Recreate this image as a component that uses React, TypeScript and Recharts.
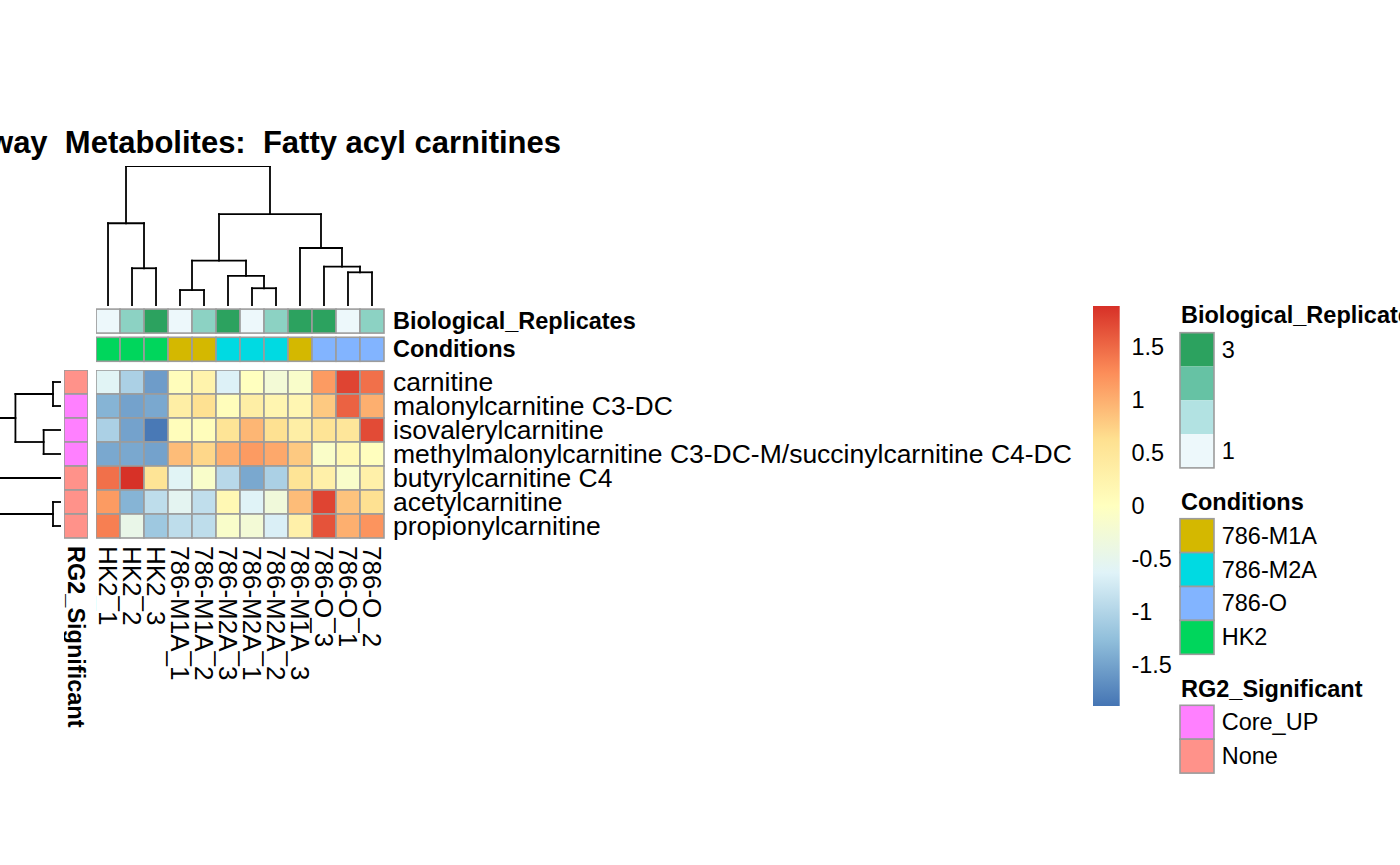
import React from 'react';
import { ScatterChart, Scatter, XAxis, YAxis, ReferenceLine, ReferenceArea } from 'recharts';

// samples in dendrogram order (columns)
const sampleNames = [
  'HK2_1', 'HK2_2', 'HK2_3', '786-M1A_1', '786-M1A_2', '786-M2A_3',
  '786-M2A_1', '786-M2A_2', '786-M1A_3', '786-O_3', '786-O_1', '786-O_2',
];

// metabolites in dendrogram order (rows)
const metaboliteNames = [
  'carnitine',
  'malonylcarnitine C3-DC',
  'isovalerylcarnitine',
  'methylmalonylcarnitine C3-DC-M/succinylcarnitine C4-DC',
  'butyrylcarnitine C4',
  'acetylcarnitine',
  'propionylcarnitine',
];

// scaled values per metabolite, one entry per sample
const zCarnitine = [-0.6, -1.05, -1.55, 0.05, 0.25, -0.65, 0.0, -0.25, -0.12, 1.15, 1.75, 1.45];
const zMalonyl = [-1.35, -1.5, -1.45, 0.35, 0.6, 0.05, 0.35, 0.2, 0.18, 0.8, 1.55, 1.0];
const zIsovaleryl = [-1.05, -1.5, -1.85, 0.05, 0.05, 0.55, 0.95, 0.6, 0.35, 0.55, 0.5, 1.7];
const zMethylmalonyl = [-1.45, -1.45, -1.5, 0.9, 0.7, 1.0, 1.15, 1.05, 0.8, -0.1, 0.15, 0.02];
const zButyryl = [1.45, 1.88, 0.55, -0.6, -0.12, -0.95, -1.45, -1.05, 0.55, 0.3, -0.12, 0.3];
const zAcetyl = [1.15, -1.35, -0.9, -0.55, -0.88, 0.15, -0.62, -0.3, 0.9, 1.75, 0.85, 0.6];
const zPropionyl = [1.35, -0.45, -1.15, -0.9, -0.9, -0.12, -0.25, -0.68, 0.3, 1.65, 1.0, 1.2];
const zRows = [zCarnitine, zMalonyl, zIsovaleryl, zMethylmalonyl, zButyryl, zAcetyl, zPropionyl];

// column annotations
const replicateValues = [1, 2, 3, 1, 2, 3, 1, 2, 3, 3, 1, 2];
const conditionValues = [
  'HK2', 'HK2', 'HK2', '786-M1A', '786-M1A', '786-M2A',
  '786-M2A', '786-M2A', '786-M1A', '786-O', '786-O', '786-O',
];
const annotationNames = ['Biological_Replicates', 'Conditions'];

// row annotation
const rg2Values = ['None', 'Core_UP', 'Core_UP', 'Core_UP', 'None', 'None', 'None'];

// legend levels
const conditionLevels = ['786-M1A', '786-M2A', '786-O', 'HK2'];
const rg2Levels = ['Core_UP', 'None'];
const colorTicks = [-1.5, -1, -0.5, 0, 0.5, 1, 1.5];
const colorRange = [-1.885, 1.885];

// hclust-style merges: negative = leaf, positive = earlier merge (1-based), then height
const colMerges: [number, number, number][] = [
  [-2, -3, 2.68],
  [-1, 1, 5.9],
  [-4, -5, 1.12],
  [-7, -8, 1.25],
  [-6, 4, 2.13],
  [3, 5, 3.22],
  [-11, -12, 2.39],
  [-10, 7, 2.79],
  [-9, 8, 4.13],
  [6, 9, 6.56],
  [2, 10, 10],
];
const rowMerges: [number, number, number][] = [
  [-1, -2, 0.55],
  [-3, -4, 1.22],
  [1, 2, 3.24],
  [-6, -7, 0.55],
  [-5, 4, 5.6],
  [3, 5, 10],
];

// colours
const rdylbu = ['#4575B4', '#91BFDB', '#E0F3F8', '#FFFFBF', '#FEE090', '#FC8D59', '#D73027'];
const replicateColours: Record<number, string> = { 1: '#EDF8FB', 2: '#8CD2C3', 3: '#2CA25F' };
const replicateRamp = ['#2CA25F', '#66C2A4', '#B2E2E2', '#EDF8FB'];
const conditionColours: Record<string, string> = {
  '786-M1A': '#D4B800',
  '786-M2A': '#00DAE2',
  '786-O': '#82B4FF',
  HK2: '#00D65C',
};
const rg2Colours: Record<string, string> = { Core_UP: '#FF80FF', None: '#FF928A' };

const GRID = '#9C9C9C';
const FONT = '"Liberation Sans", Arial, Helvetica, sans-serif';
const CELL = 24;
const N_COL = sampleNames.length;
const N_ROW = metaboliteNames.length;
const PLOT_W = CELL * N_COL;
const PLOT_H = CELL * N_ROW;
const HM_LEFT = 95.7;
const HM_TOP = 369.7;
const TREE_H = 139.7;
const colIdx = sampleNames.map((_, i) => i);
const rowIdx = metaboliteNames.map((_, i) => i);

const hexToRgb = (h: string) => [1, 3, 5].map((i) => parseInt(h.slice(i, i + 2), 16));
function heatColor(v: number) {
  const t = Math.min(1, Math.max(0, (v - colorRange[0]) / (colorRange[1] - colorRange[0])));
  const pos = t * (rdylbu.length - 1);
  const i = Math.min(rdylbu.length - 2, Math.floor(pos));
  const f = pos - i;
  const a = hexToRgb(rdylbu[i]);
  const b = hexToRgb(rdylbu[i + 1]);
  const c = a.map((x, k) => Math.round(x + (b[k] - x) * f));
  return `rgb(${c[0]},${c[1]},${c[2]})`;
}

function treeSegments(merges: [number, number, number][]) {
  const pos: number[] = [];
  const ht: number[] = [];
  const segs: { p1: number; h1: number; p2: number; h2: number }[] = [];
  const nodePos = (id: number) => (id < 0 ? -id - 1 : pos[id - 1]);
  const nodeHt = (id: number) => (id < 0 ? 0 : ht[id - 1]);
  merges.forEach(([a, b, h], k) => {
    const pa = nodePos(a);
    const pb = nodePos(b);
    segs.push({ p1: pa, h1: nodeHt(a), p2: pa, h2: h });
    segs.push({ p1: pb, h1: nodeHt(b), p2: pb, h2: h });
    segs.push({ p1: pa, h1: h, p2: pb, h2: h });
    pos[k] = (pa + pb) / 2;
    ht[k] = h;
  });
  return segs;
}

const heatCells = zRows.flatMap((vals, r) => vals.map((v, c) => ({ col: c, row: r, value: v })));
const annoCells = [
  ...replicateValues.map((v, c) => ({ col: c, row: 0, fill: replicateColours[v] })),
  ...conditionValues.map((v, c) => ({ col: c, row: 1, fill: conditionColours[v] })),
];
const rg2Cells = rg2Values.map((v, r) => ({ col: 0, row: r, fill: rg2Colours[v] }));

const noMargin = { top: 0, right: 0, bottom: 0, left: 0 };

const renderHeatCell = (props: any) => (
  <rect
    x={props.cx - CELL / 2}
    y={props.cy - CELL / 2}
    width={CELL}
    height={CELL}
    fill={heatColor(props.payload.value)}
    stroke={GRID}
    strokeWidth={1.6}
  />
);

const renderFillCell = (props: any) => (
  <rect
    x={props.cx - CELL / 2}
    y={props.cy - CELL / 2}
    width={CELL}
    height={CELL}
    fill={props.payload.fill}
    stroke={GRID}
    strokeWidth={1.6}
  />
);

const hiddenPoint = () => <g />;

function HeatmapBody() {
  return (
    <div style={{ position: 'absolute', left: HM_LEFT, top: HM_TOP }}>
      <ScatterChart width={PLOT_W + 720} height={PLOT_H + 220} margin={noMargin}>
        <XAxis
          type="number"
          dataKey="col"
          domain={[-0.5, N_COL - 0.5]}
          ticks={colIdx}
          interval={0}
          axisLine={false}
          tickLine={false}
          tickSize={0}
          tickMargin={8}
          height={220}
          tick={(p: any) => (
            <text
              x={p.x}
              y={p.y}
              transform={`rotate(90, ${p.x}, ${p.y})`}
              dominantBaseline="central"
              fontSize={26}
              fill="#000"
            >
              {sampleNames[p.payload.value]}
            </text>
          )}
        />
        <YAxis
          type="number"
          dataKey="row"
          domain={[-0.5, N_ROW - 0.5]}
          reversed
          orientation="right"
          ticks={rowIdx}
          interval={0}
          axisLine={false}
          tickLine={false}
          tickSize={0}
          tickMargin={9}
          width={720}
          tick={(p: any) => (
            <text x={p.x} y={p.y} dominantBaseline="central" fontSize={26.5} fill="#000">
              {metaboliteNames[p.payload.value]}
            </text>
          )}
        />
        <Scatter data={heatCells} shape={renderHeatCell} isAnimationActive={false} />
      </ScatterChart>
    </div>
  );
}

function ColumnAnnotations() {
  const step = 28.2;
  return (
    <div style={{ position: 'absolute', left: HM_LEFT, top: 321.5 - step / 2 }}>
      <ScatterChart width={PLOT_W + 320} height={step * 2} margin={noMargin}>
        <XAxis type="number" dataKey="col" domain={[-0.5, N_COL - 0.5]} hide />
        <YAxis
          type="number"
          dataKey="row"
          domain={[-0.5, 1.5]}
          reversed
          orientation="right"
          ticks={[0, 1]}
          interval={0}
          axisLine={false}
          tickLine={false}
          tickSize={0}
          tickMargin={9}
          width={320}
          tick={(p: any) => (
            <text x={p.x} y={p.y} dominantBaseline="central" fontSize={23.5} fontWeight="bold" fill="#000">
              {annotationNames[p.payload.value]}
            </text>
          )}
        />
        <Scatter data={annoCells} shape={renderFillCell} isAnimationActive={false} />
      </ScatterChart>
    </div>
  );
}

function RowAnnotation() {
  return (
    <div style={{ position: 'absolute', left: 63.5, top: HM_TOP }}>
      <ScatterChart width={CELL} height={PLOT_H + 220} margin={noMargin}>
        <XAxis
          type="number"
          dataKey="col"
          domain={[-0.5, 0.5]}
          ticks={[0]}
          interval={0}
          axisLine={false}
          tickLine={false}
          tickSize={0}
          tickMargin={8}
          height={220}
          tick={(p: any) => (
            <text
              x={p.x}
              y={p.y}
              transform={`rotate(90, ${p.x}, ${p.y})`}
              dominantBaseline="central"
              fontSize={23.5}
              fontWeight="bold"
              fill="#000"
            >
              RG2_Significant
            </text>
          )}
        />
        <YAxis type="number" dataKey="row" domain={[-0.5, N_ROW - 0.5]} reversed hide />
        <Scatter data={rg2Cells} shape={renderFillCell} isAnimationActive={false} />
      </ScatterChart>
    </div>
  );
}

function ColumnTree() {
  const segs = treeSegments(colMerges);
  const leaves = colIdx.map((i) => ({ pos: i, h: 0 }));
  return (
    <div style={{ position: 'absolute', left: HM_LEFT, top: 305.7 - TREE_H }}>
      <ScatterChart width={PLOT_W} height={TREE_H} margin={noMargin}>
        <XAxis type="number" dataKey="pos" domain={[-0.5, N_COL - 0.5]} hide />
        <YAxis type="number" dataKey="h" domain={[0, 10]} hide />
        <Scatter data={leaves} shape={hiddenPoint} isAnimationActive={false} />
        {segs.map((s, i) => (
          <ReferenceLine
            key={i}
            segment={[{ x: s.p1, y: s.h1 }, { x: s.p2, y: s.h2 }]}
            stroke="#000"
            strokeWidth={1.8}
            strokeLinecap="square"
            ifOverflow="visible"
          />
        ))}
      </ScatterChart>
    </div>
  );
}

function RowTree() {
  const segs = treeSegments(rowMerges);
  const leaves = rowIdx.map((i) => ({ pos: i, h: 0 }));
  return (
    <div style={{ position: 'absolute', left: 61 - TREE_H, top: HM_TOP }}>
      <ScatterChart width={TREE_H} height={PLOT_H} margin={noMargin}>
        <XAxis type="number" dataKey="h" domain={[0, 10]} reversed hide />
        <YAxis type="number" dataKey="pos" domain={[-0.5, N_ROW - 0.5]} reversed hide />
        <Scatter data={leaves} shape={hiddenPoint} isAnimationActive={false} />
        {segs.map((s, i) => (
          <ReferenceLine
            key={i}
            segment={[{ x: s.h1, y: s.p1 }, { x: s.h2, y: s.p2 }]}
            stroke="#000"
            strokeWidth={1.8}
            strokeLinecap="square"
            ifOverflow="visible"
          />
        ))}
      </ScatterChart>
    </div>
  );
}

function ColorBar() {
  return (
    <div style={{ position: 'absolute', left: 1093.3, top: 306 }}>
      <ScatterChart width={26.7 + 100} height={400} margin={noMargin}>
        <defs>
          <linearGradient id="heatRamp" x1="0" y1="1" x2="0" y2="0">
            {rdylbu.map((c, i) => (
              <stop key={c} offset={i / (rdylbu.length - 1)} stopColor={c} />
            ))}
          </linearGradient>
        </defs>
        <XAxis type="number" dataKey="x" domain={[0, 1]} hide />
        <YAxis
          type="number"
          dataKey="v"
          domain={colorRange}
          orientation="right"
          ticks={colorTicks}
          interval={0}
          axisLine={false}
          tickLine={false}
          tickSize={0}
          tickMargin={11.7}
          width={100}
          tick={(p: any) => (
            <text x={p.x} y={p.y} dominantBaseline="central" fontSize={23.5} fill="#000">
              {String(p.payload.value)}
            </text>
          )}
        />
        <Scatter data={[{ x: 0.5, v: 0 }]} shape={hiddenPoint} isAnimationActive={false} />
        <ReferenceArea
          x1={0}
          x2={1}
          y1={colorRange[0]}
          y2={colorRange[1]}
          fill="url(#heatRamp)"
          fillOpacity={1}
          stroke="none"
          ifOverflow="visible"
        />
      </ScatterChart>
    </div>
  );
}

function AnnotationLegend() {
  const bx = 10;
  const bw = 34;
  const tx = 51.7;
  const fs = 23.5;
  const repTop = 42.7;
  const repStep = 33.8;
  const condTop = 228.7;
  const step = 33.9;
  const rgTop = 415.3;
  return (
    <svg
      style={{ position: 'absolute', left: 1170, top: 290 }}
      width={230}
      height={500}
      fontFamily={FONT}
    >
      <text x={11} y={33.3} fontSize={fs} fontWeight="bold">Biological_Replicates</text>
      {replicateRamp.map((c, i) => (
        <rect key={c} x={bx} y={repTop + i * repStep} width={bw} height={repStep} fill={c} />
      ))}
      <rect x={bx} y={repTop} width={bw} height={repStep * 4} fill="none" stroke={GRID} strokeWidth={1.6} />
      <text x={tx} y={repTop + repStep / 2} fontSize={fs} dominantBaseline="central">3</text>
      <text x={tx} y={repTop + repStep * 3.5} fontSize={fs} dominantBaseline="central">1</text>

      <text x={11} y={220} fontSize={fs} fontWeight="bold">Conditions</text>
      {conditionLevels.map((lv, i) => (
        <g key={lv}>
          <rect x={bx} y={condTop + i * step} width={bw} height={step} fill={conditionColours[lv]} stroke={GRID} strokeWidth={1.6} />
          <text x={tx} y={condTop + (i + 0.5) * step} fontSize={fs} dominantBaseline="central">{lv}</text>
        </g>
      ))}

      <text x={11} y={406.7} fontSize={fs} fontWeight="bold">RG2_Significant</text>
      {rg2Levels.map((lv, i) => (
        <g key={lv}>
          <rect x={bx} y={rgTop + i * step} width={bw} height={step} fill={rg2Colours[lv]} stroke={GRID} strokeWidth={1.6} />
          <text x={tx} y={rgTop + (i + 0.5) * step} fontSize={fs} dominantBaseline="central">{lv}</text>
        </g>
      ))}
    </svg>
  );
}

export default function App() {
  return (
    <div
      style={{
        position: 'fixed',
        left: 0,
        top: 0,
        width: 1400,
        height: 865,
        overflow: 'hidden',
        background: '#fff',
        fontFamily: FONT,
      }}
    >
      <svg style={{ position: 'absolute', left: 0, top: 0 }} width={1400} height={200}>
        <text
          x={561}
          y={153}
          textAnchor="end"
          fontSize={31}
          fontWeight="bold"
          fontFamily={FONT}
          style={{ whiteSpace: 'pre' }}
        >
          {'Pathway  Metabolites:  Fatty acyl carnitines'}
        </text>
      </svg>
      <ColumnTree />
      <RowTree />
      <ColumnAnnotations />
      <RowAnnotation />
      <HeatmapBody />
      <ColorBar />
      <AnnotationLegend />
    </div>
  );
}
